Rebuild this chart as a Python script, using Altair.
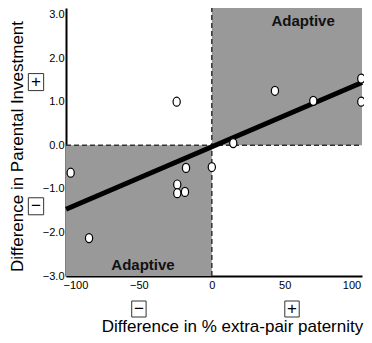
import altair as alt
import pandas as pd

# data
pt_x = [-24.1, 43.3, 69.6, 102.5, 102.5, 14.7, -96.8, -84.2, -17.7, 0.0, -23.7, -23.7, -18.4]
pt_y = [1.0, 1.25, 1.02, 1.53, 1.0, 0.05, -0.63, -2.13, -0.52, -0.50, -0.90, -1.10, -1.07]

fit_x = [-100, 103]
fit_y = [-1.47, 1.44]

X_MIN, X_MAX = -100, 103
Y_MIN, Y_MAX = -3.0, 3.15

zone_x = [-100, 0]
zone_x2 = [0, 103]
zone_y = [-3.0, 0.0]
zone_y2 = [0.0, 3.15]

lab_text = ["Adaptive", "Adaptive"]
lab_x = [62.6, -47.2]
lab_y = [2.85, -2.75]

sign_y_text = ["+", "\u2212"]
sign_y_vals = [1.45, -1.4]
sign_x_text = ["\u2212", "+"]
sign_x_vals = [-50, 55]

x_ticks = [-100, -50, 0, 50, 100]
y_ticks = [-3, -2, -1, 0, 1, 2, 3]

FONT = "Liberation Sans"

xs = alt.Scale(domain=[X_MIN, X_MAX], nice=False, zero=False)
ys = alt.Scale(domain=[Y_MIN, Y_MAX], nice=False, zero=False)

xax = alt.Axis(values=x_ticks, format="d", title="Difference in % extra-pair paternity",
               titleX=166, titleY=55, titleBaseline="alphabetic", titleAnchor="middle",
               labelFlush=6, labelFlushOffset=3)
yax = alt.Axis(values=y_ticks, format=".1f", title="Difference in Parental Investment",
               titleX=-44, titleY=138, titleBaseline="alphabetic", titleAnchor="middle",
               titleAngle=270)

zones = alt.Chart(pd.DataFrame({"x": zone_x, "x2": zone_x2, "y": zone_y, "y2": zone_y2})).mark_rect(
    color="#999999").encode(
    x=alt.X("x:Q", scale=xs, axis=xax),
    x2="x2:Q",
    y=alt.Y("y:Q", scale=ys, axis=yax),
    y2="y2:Q",
)

hrule = alt.Chart(pd.DataFrame({"y": [0.0], "x": [X_MIN], "x2": [X_MAX]})).mark_rule(
    color="#333333", strokeWidth=1.5, strokeDash=[5, 3]).encode(
    y=alt.Y("y:Q", scale=ys), x=alt.X("x:Q", scale=xs), x2="x2:Q")

vrule = alt.Chart(pd.DataFrame({"x": [0.0], "y": [Y_MIN], "y2": [Y_MAX]})).mark_rule(
    color="#333333", strokeWidth=1.5, strokeDash=[5, 3]).encode(
    x=alt.X("x:Q", scale=xs), y=alt.Y("y:Q", scale=ys), y2="y2:Q")

fit = alt.Chart(pd.DataFrame({"x": fit_x, "y": fit_y})).mark_line(
    color="black", strokeWidth=5).encode(
    x=alt.X("x:Q", scale=xs), y=alt.Y("y:Q", scale=ys))

ELLIPSE = "M-0.8,0A0.8,1,0,1,1,0.8,0A0.8,1,0,1,1,-0.8,0Z"
points = alt.Chart(pd.DataFrame({"x": pt_x, "y": pt_y})).mark_point(
    shape=ELLIPSE, size=81, filled=True, fill="white", stroke="black", strokeWidth=1.2,
    opacity=1).encode(
    x=alt.X("x:Q", scale=xs), y=alt.Y("y:Q", scale=ys))

labels = alt.Chart(pd.DataFrame({"t": lab_text, "x": lab_x, "y": lab_y})).mark_text(
    font=FONT, fontSize=15, fontWeight="bold", color="#111111", baseline="middle").encode(
    x=alt.X("x:Q", scale=xs), y=alt.Y("y:Q", scale=ys), text="t:N")

BOX = "M-0.9,-1H0.9V1H-0.9Z"
ybox = alt.Chart(pd.DataFrame({"t": sign_y_text, "y": sign_y_vals})).mark_point(
    shape=BOX, size=289, filled=False, stroke="#333333", strokeWidth=1, opacity=1).encode(
    x=alt.value(-30), y=alt.Y("y:Q", scale=ys))
ytxt = alt.Chart(pd.DataFrame({"t": sign_y_text, "y": sign_y_vals})).mark_text(
    font=FONT, fontSize=17, color="black", baseline="middle").encode(
    x=alt.value(-30), y=alt.Y("y:Q", scale=ys), text="t:N")

xbox = alt.Chart(pd.DataFrame({"t": sign_x_text, "x": sign_x_vals})).mark_point(
    shape=BOX, size=256, filled=False, stroke="#333333", strokeWidth=1, opacity=1).encode(
    x=alt.X("x:Q", scale=xs), y=alt.value(301))
xtxt = alt.Chart(pd.DataFrame({"t": sign_x_text, "x": sign_x_vals})).mark_text(
    font=FONT, fontSize=17, color="black", baseline="middle").encode(
    x=alt.X("x:Q", scale=xs), y=alt.value(301), text="t:N")

chart = alt.layer(zones, hrule, vrule, fit, points, labels, ybox, ytxt, xbox, xtxt).properties(
    width=296, height=268,
    autosize=alt.AutoSizeParams(type="none"),
    padding={"left": 58, "top": 0, "right": 2, "bottom": 59},
).configure_view(stroke=None).configure_axis(
    domainColor="black", domainWidth=2, ticks=False, tickSize=0, grid=False,
    labelFont=FONT, labelFontSize=11, labelColor="black",
    titleFont=FONT, titleFontSize=17, titleFontWeight="normal", titleColor="black",
).configure_axisY(labelPadding=2).configure_axisX(labelPadding=3)

chart.save("out.html", embed_options={"renderer": "svg", "actions": False})
